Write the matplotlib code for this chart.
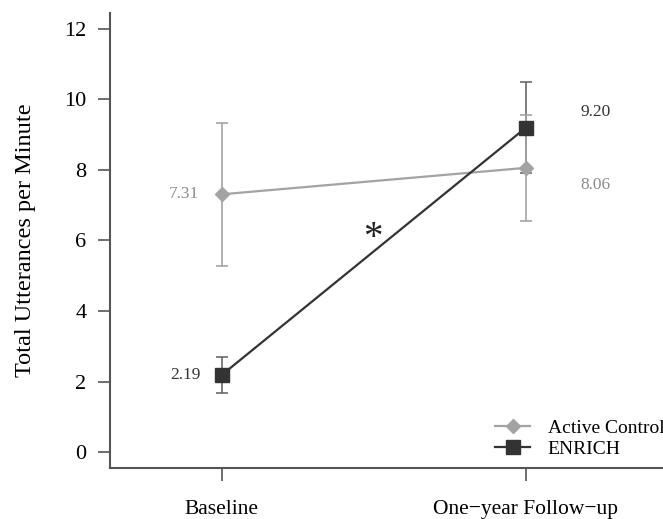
import matplotlib
matplotlib.use("Agg")
import matplotlib.pyplot as plt

# Data
timepoints = ["Baseline", "One\u2212year Follow\u2212up"]
control_mean = [7.31, 8.06]
control_err = [2.03, 1.51]
enrich_mean = [2.19, 9.20]
enrich_err = [0.52, 1.30]
y_ticks = [0, 2, 4, 6, 8, 10, 12]

CONTROL_COLOR = "#a3a3a3"
ENRICH_COLOR = "#333333"
AXIS_COLOR = "#555555"

plt.rcParams["font.family"] = ["Liberation Serif", "DejaVu Serif"]

fig = plt.figure(figsize=(6.63, 5.19), dpi=100)
ax = fig.add_axes([110 / 663, 1 - 468 / 519, 1 - 110 / 663, (468 - 13) / 519])

x = [1, 2]

# error bars (no legend entry)
ax.errorbar(x, enrich_mean, yerr=enrich_err, fmt="none", ecolor="#5e5e5e",
            elinewidth=1.1, capsize=4.5, capthick=1.1, zorder=1)
ax.errorbar(x, control_mean, yerr=control_err, fmt="none", ecolor=CONTROL_COLOR,
            elinewidth=1.2, capsize=4.5, capthick=1.2, zorder=2)

# means
ax.plot(x, control_mean, color=CONTROL_COLOR, marker="D", markersize=7,
        linewidth=1.6, label="Active Control", zorder=2.5)
ax.plot(x, enrich_mean, color=ENRICH_COLOR, marker="s", markersize=9.5,
        linewidth=1.6, label="ENRICH", zorder=3)

# value labels
ax.text(x[0] - 0.075, control_mean[0], f"{control_mean[0]:.2f}", color="#8c8c8c",
        fontsize=12.5, ha="right", va="center")
ax.text(x[0] - 0.07, enrich_mean[0], f"{enrich_mean[0]:.2f}", color=ENRICH_COLOR,
        fontsize=12.5, ha="right", va="center")
ax.text(x[1] + 0.18, enrich_mean[1] + 0.45, f"{enrich_mean[1]:.2f}", color=ENRICH_COLOR,
        fontsize=12.5, ha="left", va="center")
ax.text(x[1] + 0.18, control_mean[1] - 0.5, f"{control_mean[1]:.2f}", color="#8c8c8c",
        fontsize=12.5, ha="left", va="center")

# significance marker
ax.text(1.497, 6.05, "*", fontsize=28, ha="center", va="center", color="#222222")

ax.set_xlim(0.632, 2.451)
ax.set_ylim(-0.45, 12.45)
ax.set_xticks(x)
ax.set_xticklabels(timepoints, fontsize=15.5)
ax.set_yticks(y_ticks)
ax.set_ylabel("Total Utterances per Minute", fontsize=17.5, labelpad=20)

ax.tick_params(axis="both", direction="out", length=9, width=1.2, color=AXIS_COLOR,
               labelsize=16, pad=8)
ax.tick_params(axis="x", pad=14, labelsize=15.5)
for side in ["top", "right"]:
    ax.spines[side].set_visible(False)
for side in ["left", "bottom"]:
    ax.spines[side].set_color(AXIS_COLOR)
    ax.spines[side].set_linewidth(1.5)

ax.legend(loc="lower right", frameon=False, fontsize=14, handlelength=1.8,
          handletextpad=0.9, borderaxespad=0.1, labelspacing=0.2,
          bbox_to_anchor=(1.02, 0.0))

fig.savefig("out.png", dpi=100)
